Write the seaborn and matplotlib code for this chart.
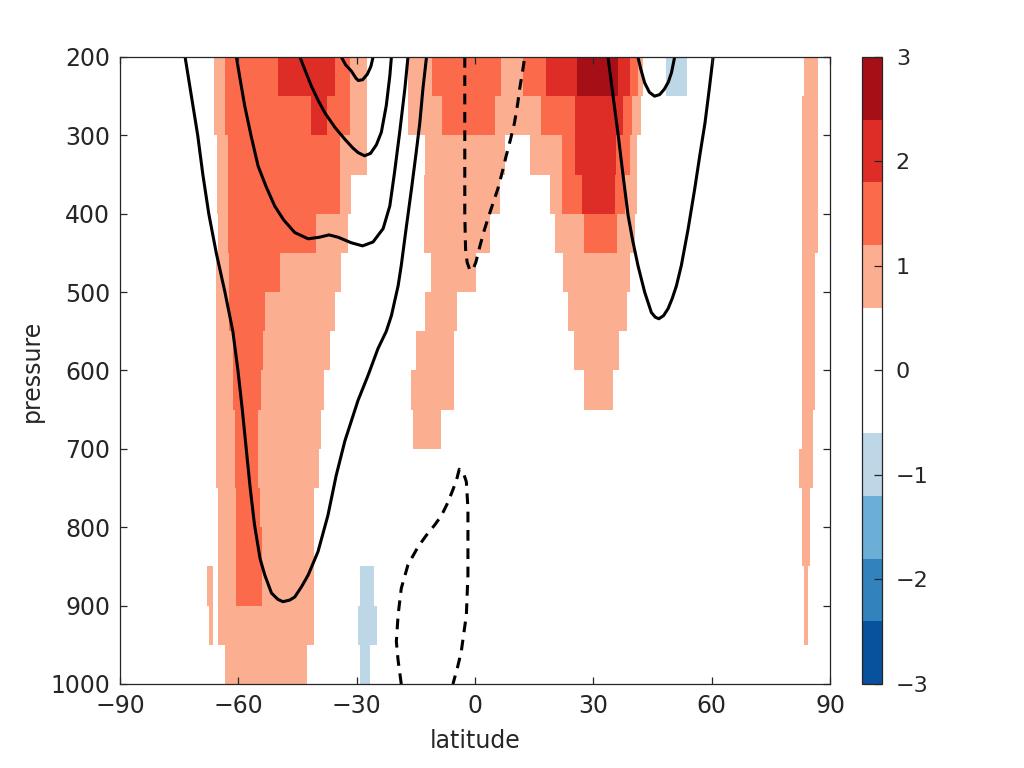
import numpy as np
import pandas as pd
import matplotlib
matplotlib.use('Agg')
import matplotlib.pyplot as plt
from matplotlib.colors import ListedColormap, BoundaryNorm
import seaborn as sns

#%%
# Colour classes of the shaded field
levels = [-3, -2.4, -1.8, -1.2, -0.6, 0.6, 1.2, 1.8, 2.4, 3]
level_colors = ['#08519c', '#3182bd', '#6baed6', '#bdd7e7', '#ffffff',
                '#fcae91', '#fb6a4a', '#de2d26', '#a50f15']

# Pressure bands (top edge, hPa) of 50 hPa each
pressure_edges = list(range(200, 1001, 50))

# Latitude spans, per pressure band, per colour class
band_06_12 = {
    200: [(-66.2, -27.5), (-17.0, 42.6), (83.6, 87.0)],
    250: [(-66.2, -27.5), (-17.0, 42.0), (82.9, 87.0)],
    300: [(-65.6, -27.5), (-12.8, 7.5), (13.9, 41.1), (82.9, 87.0)],
    350: [(-65.5, -31.4), (-13.0, 6.3), (19.0, 41.1), (82.9, 87.0)],
    400: [(-65.2, -32.2), (-13.0, 3.8), (20.3, 40.5), (82.9, 87.0)],
    450: [(-65.75, -34.1), (-11.2, 0.35), (22.3, 39.2), (82.9, 86.3)],
    500: [(-65.75, -35.4), (-12.8, -4.6), (23.6, 38.6), (82.9, 86.3)],
    550: [(-65.75, -36.85), (-14.9, -5.2), (25.1, 36.4), (82.9, 86.3)],
    600: [(-65.75, -38.3), (-16.3, -5.2), (27.4, 35.0), (82.9, 86.3)],
    650: [(-65.75, -39.0), (-15.7, -8.7), (82.9, 85.7)],
    700: [(-65.75, -39.55), (82.3, 85.7)],
    750: [(-65.2, -40.65), (82.9, 85.1)],
    800: [(-65.2, -40.65), (82.9, 85.1)],
    850: [(-67.9, -66.4), (-65.2, -40.65), (83.6, 84.4)],
    900: [(-67.6, -66.4), (-65.2, -40.65), (83.6, 84.4)],
    950: [(-63.45, -42.5)],
}
band_12_18 = {
    200: [(-63.5, -31.8), (-11.1, 6.6), (12.2, 41.2)],
    250: [(-63.5, -31.8), (-8.5, 5.0), (16.8, 39.7)],
    300: [(-62.6, -34.3), (21.9, 39.2)],
    350: [(-62.6, -34.3), (21.9, 38.0)],
    400: [(-62.6, -40.2), (27.5, 35.9)],
    450: [(-62.2, -49.5)],
    500: [(-62.2, -53.3)],
    550: [(-61.35, -53.7)],
    600: [(-61.35, -54.3)],
    650: [(-60.8, -55.0)],
    700: [(-60.8, -55.0)],
    750: [(-60.6, -54.6)],
    800: [(-60.5, -54.0)],
    850: [(-60.5, -54.0)],
}
band_18_24 = {
    200: [(-50.1, -35.4), (18.1, 39.2)],
    250: [(-41.6, -37.5), (25.3, 37.5)],
    300: [(25.3, 35.85)],
    350: [(27.0, 35.4)],
}
band_24_30 = {
    200: [(25.7, 36.3)],
}
band_m06_m12 = {
    200: [(48.5, 53.8)],
    850: [(-29.2, -25.6)],
    900: [(-29.65, -24.8)],
    950: [(-29.2, -26.4)],
}
class_values = [0.9, 1.5, 2.1, 2.7, -0.9]

# Contour lines (latitude, pressure)
contour_a_lat = [-73.5, -71.9, -70.3, -69.0, -67.5, -65.6, -63.4, -61.4, -60.1,
                 -59.0, -58.0, -57.0, -55.9, -54.5, -53.3, -51.6, -50.0, -48.7, -47.0, -45.7, -44.0,
                 -42.3, -39.8, -37.3, -35.2, -33.0, -29.65, -27.1, -24.6, -22.5, -21.2, -19.5, -18.7,
                 -17.5, -16.1, -15.0, -14.0, -13.2, -12.3]
contour_a_p = [200, 250, 300, 350, 400, 450, 500, 550, 600,
               650, 700, 750, 797, 840, 861, 884, 892, 895, 893, 889, 876,
               861, 831, 785, 734, 690, 638, 606, 572, 550, 530, 492, 466,
               420, 368, 325, 284, 240, 200]
contour_b_lat = [-60.5, -59.5, -58.4, -56.8, -55.0, -53.0, -50.8, -48.5, -45.7, -42.3, -39.5, -37.0,
                 -34.7, -31.4, -28.5, -25.85, -23.3, -21.6, -20.4, -19.1, -17.8, -17.0]
contour_b_p = [200, 230, 262, 300, 339, 365, 390, 408, 424, 432, 430, 427,
               430, 437, 441, 436, 419, 390, 347, 296, 241, 200]
contour_c_lat = [-44.4, -43.0, -41.5, -39.8, -38.1, -35.5, -33.0, -31.0, -29.65, -28.0, -26.5,
                 -25.0, -23.75, -22.5, -21.6, -21.2]
contour_c_p = [200, 218, 237, 255, 271, 290, 305, 316, 322, 326, 323, 312, 296, 262, 224, 200]
contour_d_lat = [-33.9, -32.8, -31.35, -30.2, -29.6, -28.5, -27.3, -26.4, -25.85]
contour_d_p = [200, 210, 218, 227, 230, 229, 222, 212, 200]
contour_e_lat = [-2.6, -2.6, -2.6, -2.4, -2.0, -1.3, -0.6, 0.2, 1.2, 2.4, 4.0, 5.8, 7.0, 7.9,
                 9.0, 10.0, 10.8, 11.3, 12.0, 12.6]
contour_e_p = [200, 300, 400, 445, 462, 472, 472, 462, 442, 420, 395, 368, 345, 326,
               305, 284, 260, 241, 220, 200]
contour_f_lat = [-18.7, -19.5, -19.95, -19.5, -18.7, -17.0, -14.45, -12.3, -10.2, -8.5, -6.85,
                 -5.6, -4.7, -4.0, -3.0, -2.2, -1.8, -1.8, -1.8, -2.2, -3.5, -4.5, -5.6]
contour_f_p = [1000, 970, 946, 912, 878, 848, 825, 810, 797, 785, 768,
               752, 740, 726, 730, 742, 776, 820, 861, 912, 959, 980, 1000]
contour_g_lat = [33.7, 35.0, 36.3, 37.5, 38.8, 40.0, 41.3, 43.0, 44.7, 45.7, 46.6, 47.8, 48.95,
                 50.0, 51.05, 52.3, 54.0, 55.7, 57.0, 58.3, 59.4, 60.35]
contour_g_p = [200, 250, 300, 350, 402, 435, 466, 500, 526, 532, 534, 530, 521,
               508, 492, 466, 420, 368, 325, 284, 240, 200]
contour_h_lat = [41.3, 42.0, 43.0, 44.2, 45.5, 46.8, 48.0, 49.0, 49.8, 50.6]
contour_h_p = [200, 215, 233, 245, 250, 248, 241, 232, 220, 200]

#%%
# Build the shaded grid from the spans
lat_edges = np.arange(-90, 90.001, 0.25)
lat_centers = (lat_edges[:-1] + lat_edges[1:]) / 2
field = np.zeros((len(pressure_edges) - 1, len(lat_centers)))
for value, band in zip(class_values, [band_06_12, band_12_18, band_18_24, band_24_30, band_m06_m12]):
    for p_top, spans in band.items():
        row = pressure_edges.index(p_top)
        for lat0, lat1 in spans:
            field[row, (lat_centers > lat0) & (lat_centers < lat1)] = value

#%%
sns.set_style('ticks')
plt.rcParams['font.family'] = ['DejaVu Sans']

fig = plt.figure(figsize=(10.24, 7.68), dpi=100)
ax = fig.add_axes([0.1172, 0.1094, 0.6934, 0.8164])
cax = fig.add_axes([0.8418, 0.1094, 0.0195, 0.8164])

cmap = ListedColormap(level_colors)
norm = BoundaryNorm(levels, cmap.N)
mesh = ax.pcolormesh(lat_edges, pressure_edges, field, cmap=cmap, norm=norm, shading='flat')

# Contours: solid for positive, dashed for negative
solid = [(contour_a_lat, contour_a_p), (contour_b_lat, contour_b_p), (contour_c_lat, contour_c_p),
         (contour_d_lat, contour_d_p), (contour_g_lat, contour_g_p), (contour_h_lat, contour_h_p)]
dashed = [(contour_e_lat, contour_e_p), (contour_f_lat, contour_f_p)]
for lats, ps in solid:
    df = pd.DataFrame({'lat': lats, 'p': ps})
    sns.lineplot(data=df, x='lat', y='p', sort=False, estimator=None, color='black',
                 linewidth=2.2, ax=ax)
for lats, ps in dashed:
    df = pd.DataFrame({'lat': lats, 'p': ps})
    sns.lineplot(data=df, x='lat', y='p', sort=False, estimator=None, color='black',
                 linewidth=2.2, linestyle=(0, (3.5, 2.5)), ax=ax)

ax.set_xlim(-90, 90)
ax.set_ylim(1000, 200)
ax.set_xticks([-90, -60, -30, 0, 30, 60, 90])
ax.set_yticks(range(200, 1001, 100))
ax.set_xlabel('latitude', fontsize=17, labelpad=8)
ax.set_ylabel('pressure', fontsize=17, labelpad=5)
ax.set_axisbelow(False)
ax.tick_params(axis='both', which='major', direction='in', length=5, width=0.9,
               labelsize=17, top=True, right=True, pad=7, color='#262626')
for s in ax.spines.values():
    s.set_linewidth(0.9)
    s.set_color('#262626')

cb = fig.colorbar(mesh, cax=cax, ticks=[-3, -2, -1, 0, 1, 2, 3], spacing='proportional')
cb.minorticks_off()
cb.ax.set_axisbelow(False)
cb.ax.tick_params(which='major', direction='in', length=6, width=0.9, labelsize=16, pad=10,
                  color='#262626')
cb.outline.set_linewidth(0.9)

fig.savefig('out.png', dpi=100)
